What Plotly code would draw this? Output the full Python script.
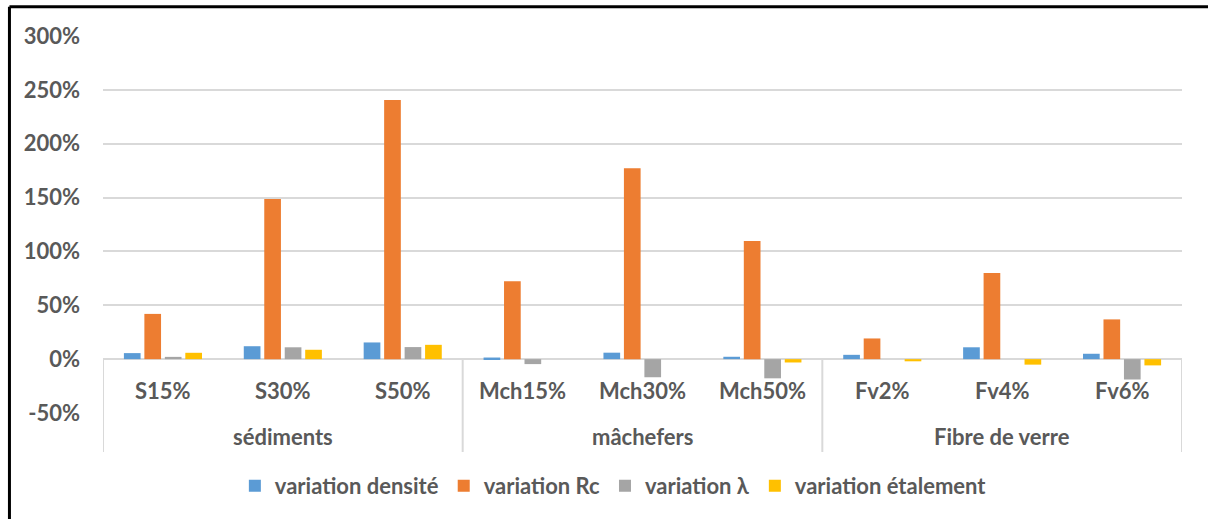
import plotly.graph_objects as go

categories = ["S15%", "S30%", "S50%", "Mch15%", "Mch30%", "Mch50%", "Fv2%", "Fv4%", "Fv6%"]
groups = ["sédiments", "mâchefers", "Fibre de verre"]
group_sizes = [3, 3, 3]

series_names = ["variation densité", "variation Rc", "variation λ", "variation étalement"]
densite = [0.056, 0.12, 0.155, 0.015, 0.06, 0.022, 0.04, 0.11, 0.05]
rc = [0.42, 1.486, 2.405, 0.724, 1.773, 1.096, 0.192, 0.799, 0.369]
lam = [0.021, 0.11, 0.112, -0.046, -0.168, -0.178, 0.0, 0.0, -0.189]
etal = [0.059, 0.087, 0.133, 0.0, 0.0, -0.031, -0.02, -0.051, -0.058]

y_tick_vals = [-0.5, 0, 0.5, 1.0, 1.5, 2.0, 2.5, 3.0]
y_tick_text = ["-50%", "0%", "50%", "100%", "150%", "200%", "250%", "300%"]

colors = ["#5B9BD5", "#ED7D31", "#A5A5A5", "#FFC000"]
TXT = "#595959"
GRID = "#D9D9D9"
FONT = "Lato"
FS = 22

ymin, ymax = -0.5, 3.0

fig = go.Figure()
for name, vals, col in zip(series_names, [densite, rc, lam, etal], colors):
    fig.add_trace(go.Bar(x=categories, y=vals, name=name, marker=dict(color=col, line=dict(width=0))))

zero_paper = (0 - ymin) / (ymax - ymin)
bottom_paper = -0.1034

shapes = []
bounds = [-0.5]
acc = -0.5
for s in group_sizes:
    acc += s
    bounds.append(acc)
for b in bounds:
    shapes.append(dict(type="line", xref="x", yref="paper", x0=b, x1=b, y0=zero_paper, y1=bottom_paper,
                       line=dict(color=GRID, width=2), layer="below"))
# outer black frame: only its left and top edges fall inside the picture
shapes.append(dict(type="line", xref="paper", yref="paper", x0=-0.0867, x1=1.3, y0=1.0775, y1=1.0775,
                   line=dict(color="black", width=3)))
shapes.append(dict(type="line", xref="paper", yref="paper", x0=-0.0867, x1=-0.0867, y0=-0.5, y1=1.0775,
                   line=dict(color="black", width=3)))

bold = dict(family=FONT, size=FS, color=TXT, weight="bold")
annotations = []
for c in categories:
    annotations.append(dict(x=c, y=-0.29, xref="x", yref="y", text=c, showarrow=False,
                            font=bold, yanchor="middle"))
start = 0
for g, s in zip(groups, group_sizes):
    center = start + (s - 1) / 2
    annotations.append(dict(x=center, y=-0.063, xref="x", yref="paper", text=g, showarrow=False,
                            font=bold, yanchor="middle"))
    start += s

fig.update_layout(
    width=1208, height=519,
    margin=dict(l=103, r=26, t=36, b=106),
    paper_bgcolor="white", plot_bgcolor="white",
    barmode="group", bargap=0.317, bargroupgap=0.185,
    font=dict(family=FONT, color=TXT, size=FS),
    shapes=shapes, annotations=annotations,
    legend=dict(orientation="h", x=0.473, xanchor="center", y=-0.1936, yanchor="middle",
                font=bold, traceorder="normal"),
    showlegend=True,
)
fig.update_xaxes(showticklabels=False, showgrid=False, zeroline=False, showline=False,
                 range=[-0.5, len(categories) - 0.5])
fig.update_yaxes(range=[ymin, ymax], tickvals=y_tick_vals, ticktext=y_tick_text, showgrid=True,
                 gridcolor=GRID, gridwidth=2, zeroline=True, zerolinecolor=GRID, zerolinewidth=2,
                 showline=False, ticklabelstandoff=22, tickfont=bold)

fig.write_html("out.html", config={"displayModeBar": False},
               post_script="document.body.style.margin='0px';")
